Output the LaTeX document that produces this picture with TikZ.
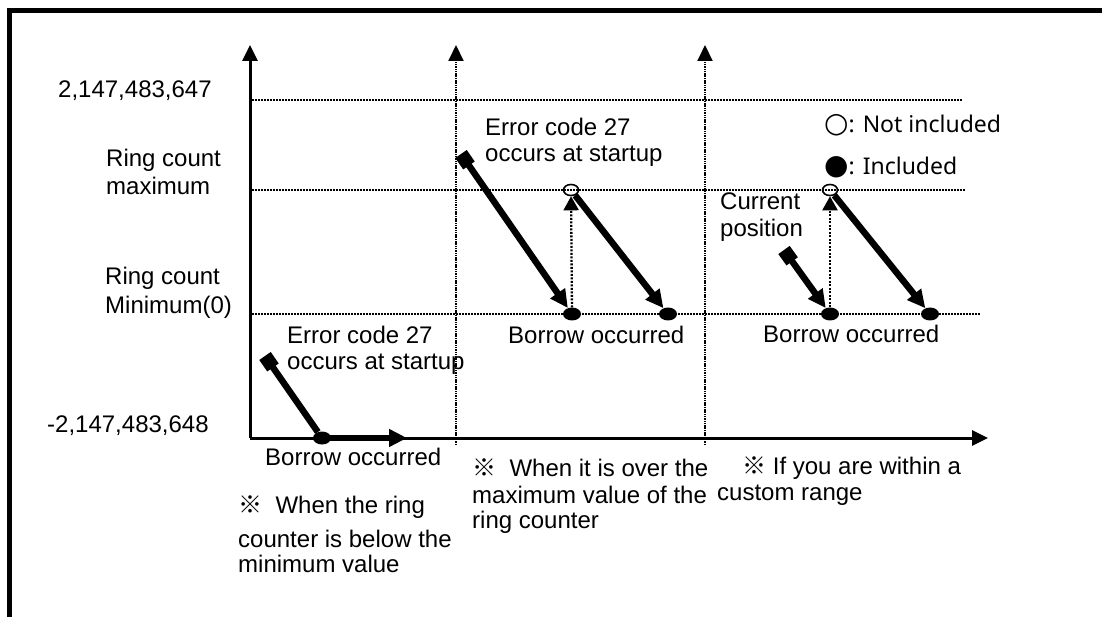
\documentclass[tikz,border=0pt]{standalone}
\usepackage{fontspec}
\setmainfont{Liberation Sans}
\newfontfamily\cjkfont{Noto Sans CJK JP}
\newfontfamily\symfont{DejaVu Sans}
\newfontfamily\notofont{Noto Sans}
\usetikzlibrary{arrows.meta,shapes.geometric}
\begin{document}
\begin{tikzpicture}[x=1pt,y=-1pt,
  lbl/.style={anchor=base west, inner sep=0pt, font=\fontsize{24}{28}\selectfont},
  leg/.style={anchor=base west, inner sep=0pt, font=\notofont\fontsize{23}{27}\selectfont},
  frameline/.style={line width=4.5pt},
  axis/.style={line width=3pt, -{Triangle[length=16pt,width=15pt]}},
  vaxis/.style={line width=2pt, dash pattern=on 1.5pt off 0.8pt, -{Triangle[length=16pt,width=15pt]}},
  gridline/.style={line width=1.7pt, dash pattern=on 1.5pt off 1.5pt},
  thk/.style={line width=6.5pt},
  sqstart/.style={{Square[length=14pt,width=14pt]}-},
  sqhead/.style={{Square[length=14pt,width=14pt]}-{Triangle[length=18pt,width=17pt]}},
  head/.style={-{Triangle[length=18pt,width=17pt]}},
  uparrow/.style={line width=2.3pt, dash pattern=on 2pt off 1.5pt, -{Triangle[length=14pt,width=15pt]}},
  fdot/.style={ellipse, fill=black, inner sep=0pt, minimum width=18pt, minimum height=13pt},
  odot/.style={ellipse, draw=black, line width=1.6pt, inner sep=0pt, minimum width=15pt, minimum height=11pt},
]
\useasboundingbox (0,0) rectangle (1102,617);
% frame
\coordinate (fbl) at (9.5,617);
\coordinate (ftl) at (9.5,10.5);
\coordinate (ftr) at (1102,10.5);
\draw[frameline] (fbl) -- (ftl) -- (ftr);

% axes
\coordinate (o) at (250,438);
\coordinate (ytop) at (250,45);
\coordinate (xend) at (988,438);
\draw[axis] (o) -- (ytop);
\draw[axis] (o) -- (xend);
\coordinate (v2b) at (456,445);
\coordinate (v2t) at (456,45);
\coordinate (v3b) at (705,445);
\coordinate (v3t) at (705,45);
\draw[vaxis] (v2b) -- (v2t);
\draw[vaxis] (v3b) -- (v3t);

% grid lines
\coordinate (g1a) at (252,100); \coordinate (g1b) at (962,100);
\coordinate (g2a) at (252,190); \coordinate (g2b) at (965,190);
\coordinate (g3a) at (252,314); \coordinate (g3b) at (980,314);
\draw[gridline] (g1a) -- (g1b);
\draw[gridline] (g2a) -- (g2b);
\draw[gridline] (g3a) -- (g3b);

% y labels
\node[lbl] (ymax) at (58,98) {2,147,483,647};
\node[lbl] (rmax1) at (106,167) {Ring count};
\node[lbl] (rmax2) at (106,195) {maximum};
\node[lbl] (rmin1) at (105,285) {Ring count};
\node[lbl] (rmin2) at (105,313) {Minimum(0)};
\node[lbl] (ymin) at (47,432) {-2,147,483,648};

% chart 1
\coordinate (sq1) at (265,356);
\node[fdot] (d1) at (322,438) {};
\coordinate (e1) at (407,438);
\draw[thk,sqstart] (sq1) -- (d1);
\draw[thk,head] (d1.center) -- (e1);
\node[lbl] (err1a) at (287,343) {Error code 27};
\node[lbl] (err1b) at (287,369) {occurs at startup};
\node[lbl] (bor1) at (265,465) {Borrow occurred};
\node[lbl] (n1a) at (238,513) {{\cjkfont ※}~~When the ring};
\node[lbl] (n1b) at (238,547) {counter is below the};
\node[lbl] (n1c) at (238,572) {minimum value};

% chart 2
\coordinate (sq2) at (461,154);
\node[fdot] (d2a) at (572,314) {};
\node[odot] (o2) at (571,190) {};
\node[fdot] (d2b) at (668,314) {};
\draw[thk,sqhead] (sq2) -- (d2a);
\draw[uparrow] (d2a) -- (o2);
\draw[thk,head] (o2) -- (d2b);
\node[lbl] (err2a) at (485,136) {Error code 27};
\node[lbl] (err2b) at (485,162) {occurs at startup};
\node[lbl] (bor2) at (508,343) {Borrow occurred};
\node[lbl] (n2a) at (472,476) {{\cjkfont ※}~~When it is over the};
\node[lbl] (n2b) at (472,503) {maximum value of the};
\node[lbl] (n2c) at (472,528) {ring counter};

% chart 3
\coordinate (sq3) at (784,250);
\node[fdot] (d3a) at (830,314) {};
\node[odot] (o3) at (830,190) {};
\node[fdot] (d3b) at (930,314) {};
\draw[thk,sqhead] (sq3) -- (d3a);
\draw[uparrow] (d3a) -- (o3);
\draw[thk,head] (o3) -- (d3b);
\node[lbl] (cur1) at (720,210) {Current};
\node[lbl] (cur2) at (720,237) {position};
\node[lbl] (bor3) at (763,342) {Borrow occurred};
\node[leg] (lg1) at (824,133) {{\symfont\fontsize{28}{28}\selectfont ○}: Not included};
\node[leg] (lg2) at (824,175) {{\symfont\fontsize{28}{28}\selectfont ●}: Included};
\node[lbl] (n3a) at (742,474) {{\cjkfont ※} If you are within a};
\node[lbl] (n3b) at (717,500) {custom range};
\end{tikzpicture}
\end{document}
